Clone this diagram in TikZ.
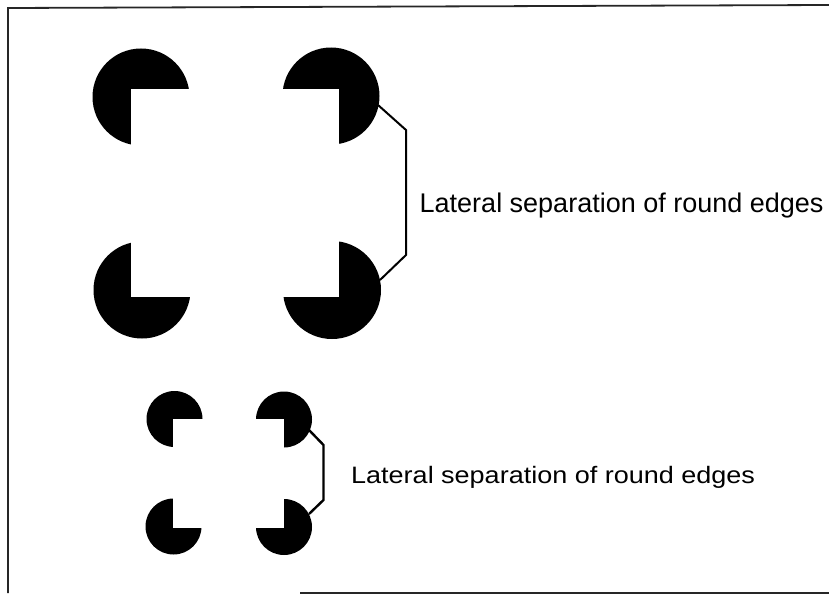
\documentclass[tikz,border=0pt]{standalone}
\usepackage{fontspec}
\setmainfont{Liberation Sans}
\begin{document}
\begin{tikzpicture}[x=1pt,y=-1pt,
  pac/.style={fill=black},
  gap/.style={fill=white},
  frameline/.style={line width=1.8pt, black!85},
  bracket/.style={line width=2pt, line join=miter},
  lbl/.style={inner sep=0pt, anchor=base west, font=\fontsize{27}{30}\selectfont}]
\useasboundingbox (0,0) rectangle (829,594);
% frame
\coordinate (f1) at (8,8);
\coordinate (f2) at (829,5);
\coordinate (f3) at (8,593);
\coordinate (f4) at (300,593);
\coordinate (f5) at (829,593);
\draw[frameline] (f3) -- (f1) -- (f2);
\draw[frameline] (f4) -- (f5);
% large figure
\fill[pac] (141,97) circle (48.5);
\fill[pac] (331,96) circle (48.5);
\fill[pac] (142,290) circle (48.5);
\fill[pac] (332,290) circle (49);
\fill[gap] (131,89) rectangle (339.3,297);
% small figure
\fill[pac] (174.5,419) circle (28);
\fill[pac] (284,419.5) circle (28);
\fill[pac] (173.5,526.5) circle (28);
\fill[pac] (284,527) circle (28);
\fill[gap] (173,418.5) rectangle (283.5,527.7);
% connectors
\coordinate (a1) at (378,105);
\coordinate (a2) at (406,130);
\coordinate (a3) at (406,255);
\coordinate (a4) at (380,280);
\draw[bracket] (a1) -- (a2) -- (a3) -- (a4);
\coordinate (b1) at (309,430);
\coordinate (b2) at (323.5,445);
\coordinate (b3) at (323.5,500);
\coordinate (b4) at (309,514);
\draw[bracket, line width=2.4pt] (b1) -- (b2) -- (b3) -- (b4);
% labels
\node[lbl] (t1) at (419.5,212.3) {Lateral separation of round edges};
\node[lbl, yscale=0.88] (t2) at (351,483.3) {Lateral separation of round edges};
\end{tikzpicture}
\end{document}
